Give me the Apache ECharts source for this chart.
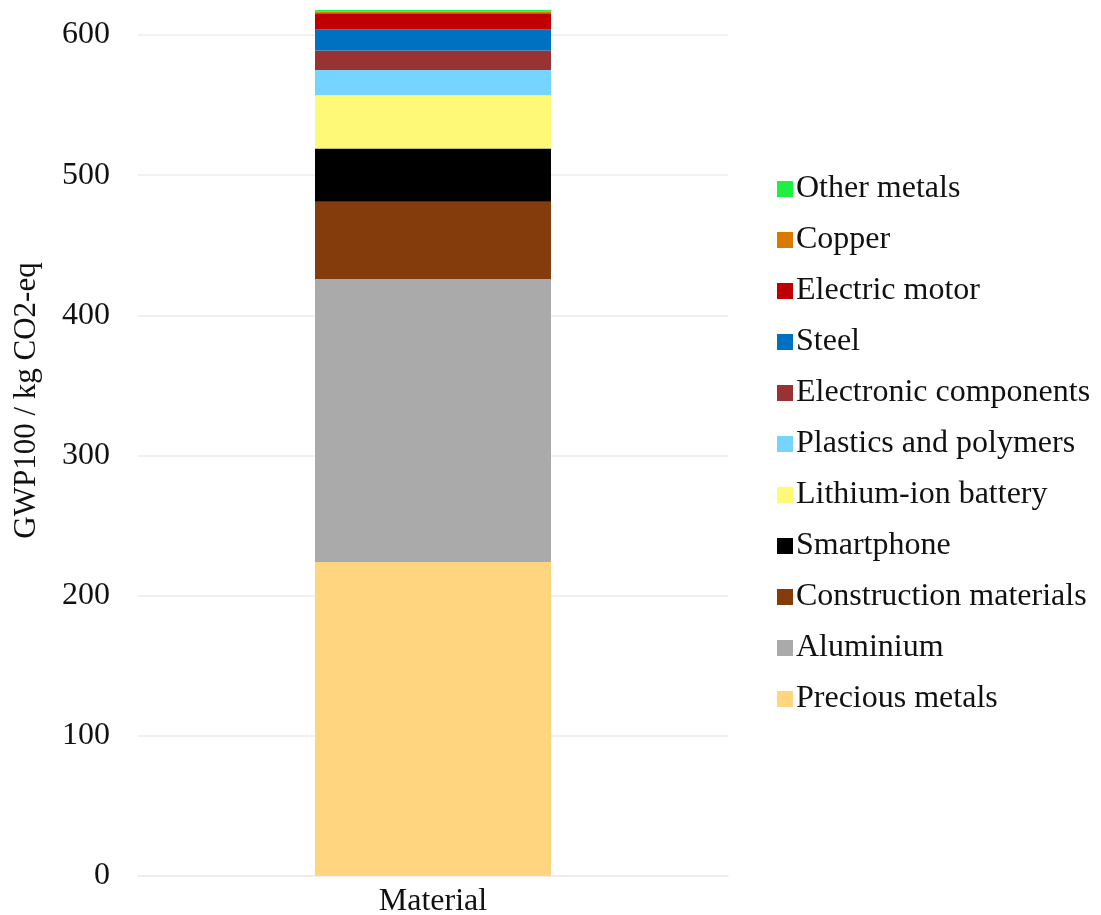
<!DOCTYPE html>
<html lang="en">
<head>
  <meta charset="UTF-8">
  <title>GWP by material</title>
  <script src="https://cdn.jsdelivr.net/npm/echarts@6/dist/echarts.min.js"></script>
  <style>body{margin:0;background:#fff}</style>
</head>
<body>
<div id="main" style="width: 1101px; height: 915px"></div>
<script>
  var categories = ['Material'];
  // bottom to top of the stack
  var seriesNames = ['Precious metals', 'Aluminium', 'Construction materials', 'Smartphone',
    'Lithium-ion battery', 'Plastics and polymers', 'Electronic components', 'Steel',
    'Electric motor', 'Copper', 'Other metals'];
  var seriesValues = [224, 202, 55, 38, 38, 18, 14, 15, 11.5, 1.3, 1.1];
  var seriesColors = ['#FFD580', '#AAAAAA', '#843C0C', '#000000', '#FFF978', '#75D5FF',
    '#993333', '#0070C0', '#C00000', '#DA7800', '#1EF040'];
  var yTicks = [0, 100, 200, 300, 400, 500, 600];

  var chart = echarts.init(document.getElementById('main'));
  var font = 'Liberation Serif, Times New Roman, serif';

  var series = seriesNames.map(function (name, i) {
    return {
      name: name,
      type: 'bar',
      stack: 'total',
      barWidth: '40%',
      clip: false,
      itemStyle: { color: seriesColors[i] },
      data: [seriesValues[i]]
    };
  });

  chart.setOption({
    animation: false,
    textStyle: { fontFamily: font },
    grid: { left: 138, right: 373, top: 35, bottom: 39, outerBoundsMode: 'none', containLabel: false },
    legend: {
      orient: 'vertical',
      left: 772,
      top: 168,
      data: seriesNames.slice().reverse(),
      icon: 'rect',
      itemWidth: 16,
      itemHeight: 16,
      itemGap: 19,
      textStyle: { fontFamily: font, fontSize: 32, color: '#111', padding: [0, 0, 0, -2] }
    },
    xAxis: {
      type: 'category',
      data: categories,
      axisLine: { show: true, lineStyle: { color: '#ececec', width: 1.5 } },
      axisTick: { show: false },
      axisLabel: { fontFamily: font, fontSize: 32, color: '#111', margin: 10 }
    },
    yAxis: {
      type: 'value',
      min: yTicks[0],
      max: yTicks[yTicks.length - 1],
      interval: 100,
      name: 'GWP100 / kg CO2-eq',
      nameLocation: 'middle',
      nameGap: 96,
      nameTextStyle: { fontFamily: font, fontSize: 31, color: '#111', padding: [0, 0, 0, 110] },
      axisLine: { show: false },
      axisTick: { show: false },
      axisLabel: { fontFamily: font, fontSize: 32, color: '#111', margin: 28, padding: [4, 0, 0, 0] },
      splitLine: { lineStyle: { color: '#ececec', width: 1.5 } }
    },
    series: series
  });
</script>
</body>
</html>
